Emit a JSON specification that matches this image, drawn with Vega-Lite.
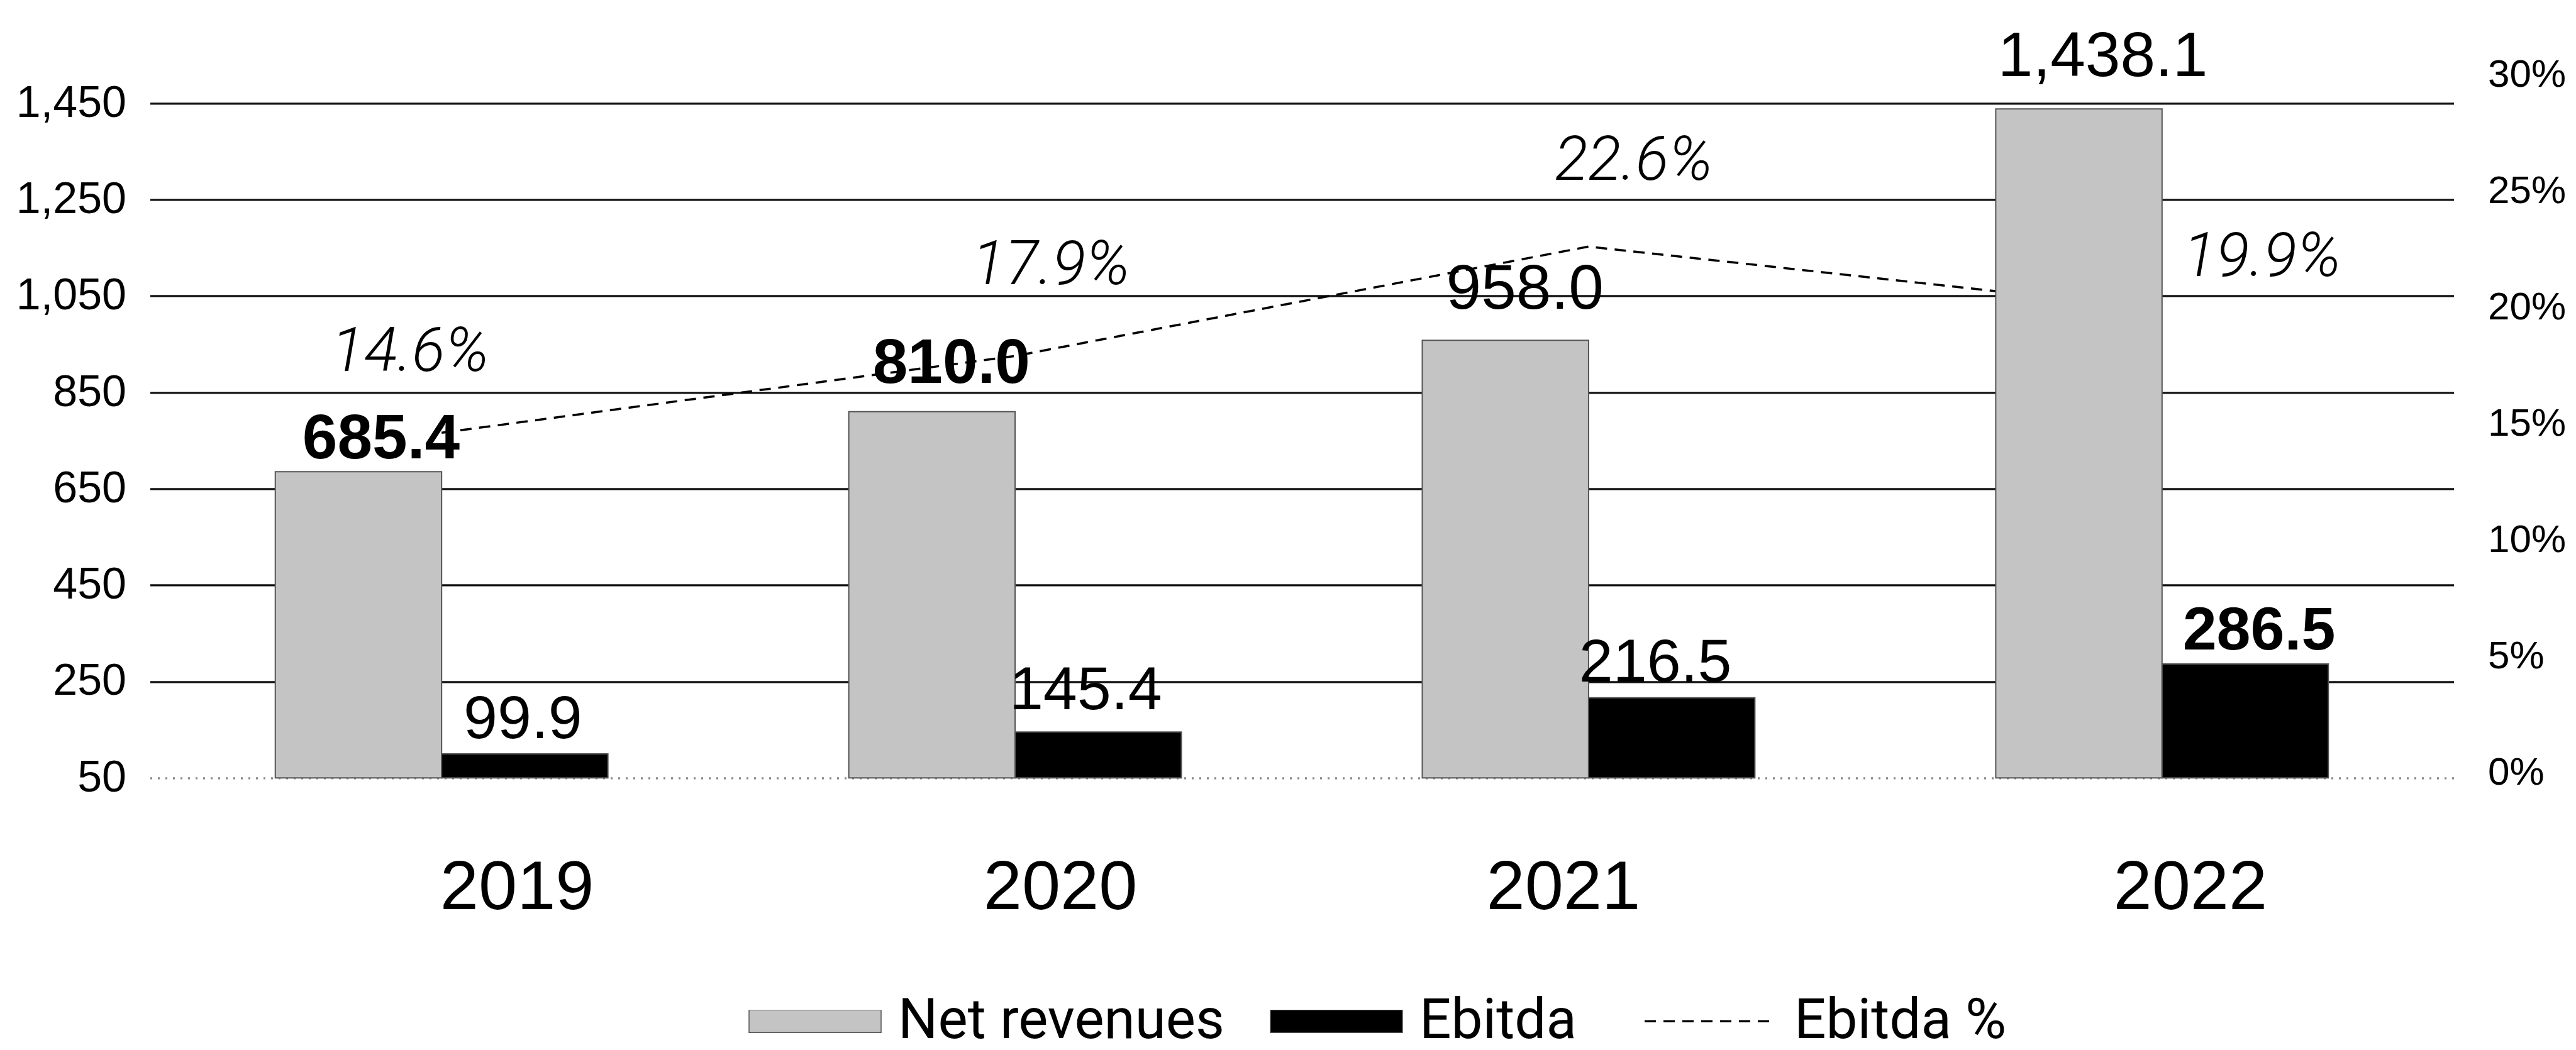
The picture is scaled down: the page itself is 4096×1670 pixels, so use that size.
{
  "$schema": "https://vega.github.io/schema/vega-lite/v6.json",
  "width": 3663,
  "height": 1119,
  "autosize": {"type": "none"},
  "padding": {"left": 238.5, "top": 118.3, "right": 194.5, "bottom": 432.7},
  "background": "white",
  "config": {"view": {"stroke": null}, "font": "Liberation Sans"},
  "data": {
    "values": [
      {"year": "2019", "series": "Net revenues", "value": 685.4},
      {"year": "2019", "series": "Ebitda", "value": 99.9},
      {"year": "2019", "series": "Ebitda %", "value": 0.146},
      {"year": "2020", "series": "Net revenues", "value": 810.0},
      {"year": "2020", "series": "Ebitda", "value": 145.4},
      {"year": "2020", "series": "Ebitda %", "value": 0.179},
      {"year": "2021", "series": "Net revenues", "value": 958.0},
      {"year": "2021", "series": "Ebitda", "value": 216.5},
      {"year": "2021", "series": "Ebitda %", "value": 0.226},
      {"year": "2022", "series": "Net revenues", "value": 1438.1},
      {"year": "2022", "series": "Ebitda", "value": 286.5},
      {"year": "2022", "series": "Ebitda %", "value": 0.199}
    ]
  },
  "layer": [
    {
      "transform": [{"filter": "datum.series === 'Ebitda %'"}],
      "encoding": {
        "x": {
          "field": "year", "type": "nominal",
          "scale": {"paddingInner": 0.42, "paddingOuter": 0.2185},
          "axis": {
            "orient": "bottom", "labelFontSize": 110, "labelPadding": 208, "labelBaseline": "alphabetic",
            "labelAngle": 0, "labelColor": "#000000", "labelLimit": 1000, "domain": false, "ticks": false, "tickSize": 0, "title": null,
            "labelOffset": {"condition": [{"test": "datum.value === '2019'", "value": 120}, {"test": "datum.value === '2020'", "value": 72}, {"test": "datum.value === '2021'", "value": -40}], "value": 45}
          }
        },
        "y": {
          "field": "value", "type": "quantitative",
          "scale": {"domain": [-0.00232, 0.3], "nice": false, "zero": false},
          "axis": {
            "orient": "right", "values": [0, 0.05, 0.1, 0.15, 0.2, 0.25, 0.3], "format": ".0%",
            "labelFontSize": 62, "labelPadding": 54, "labelAlign": "left", "labelColor": "#000000",
            "domain": false, "ticks": false, "grid": false, "title": null
          }
        }
      },
      "layer": [
        {
          "mark": {"type": "line", "stroke": "#000000", "strokeWidth": 3.5},
          "encoding": {
            "strokeDash": {
              "field": "series", "type": "nominal",
              "scale": {"domain": ["Ebitda %"], "range": [[18, 12]]},
              "legend": {
                "title": null, "orient": "none", "legendX": 2374.5, "legendY": 1488, "direction": "horizontal",
                "symbolType": "stroke", "symbolSize": 44100, "clipHeight": 36,
                "symbolStrokeColor": "#000000", "symbolStrokeWidth": 3.5,
                "labelFont": "Roboto", "labelFontSize": 89, "labelOffset": 26, "labelLimit": 1000,
                "labelColor": "#000000", "padding": 0
              }
            }
          }
        },
        {
          "transform": [{"filter": "datum.year === '2019'"}],
          "mark": {"type": "text", "font": "Roboto", "fontStyle": "italic", "fontWeight": 300, "fontSize": 98, "baseline": "alphabetic", "align": "center", "color": "#000000", "dx": -50, "dy": -98},
          "encoding": {"text": {"field": "value", "type": "quantitative", "format": ".1%"}}
        },
        {
          "transform": [{"filter": "datum.year === '2020'"}],
          "mark": {"type": "text", "font": "Roboto", "fontStyle": "italic", "fontWeight": 300, "fontSize": 98, "baseline": "alphabetic", "align": "center", "color": "#000000", "dx": 57, "dy": -114},
          "encoding": {"text": {"field": "value", "type": "quantitative", "format": ".1%"}}
        },
        {
          "transform": [{"filter": "datum.year === '2021'"}],
          "mark": {"type": "text", "font": "Roboto", "fontStyle": "italic", "fontWeight": 300, "fontSize": 98, "baseline": "alphabetic", "align": "center", "color": "#000000", "dx": 72, "dy": -106},
          "encoding": {"text": {"field": "value", "type": "quantitative", "format": ".1%"}}
        },
        {
          "transform": [{"filter": "datum.year === '2022'"}],
          "mark": {"type": "text", "font": "Roboto", "fontStyle": "italic", "fontWeight": 300, "fontSize": 98, "baseline": "alphabetic", "align": "center", "color": "#000000", "dx": 159, "dy": -53},
          "encoding": {"text": {"field": "value", "type": "quantitative", "format": ".1%"}}
        }
      ]
    },
    {
      "transform": [{"filter": "datum.series !== 'Ebitda %'"}],
      "encoding": {
        "x": {
          "field": "year", "type": "nominal",
          "scale": {"paddingInner": 0.42, "paddingOuter": 0.2185},
          "axis": {
            "orient": "bottom", "labelFontSize": 110, "labelPadding": 208, "labelBaseline": "alphabetic",
            "labelAngle": 0, "labelColor": "#000000", "labelLimit": 1000, "domain": false, "ticks": false, "tickSize": 0, "title": null,
            "labelOffset": {"condition": [{"test": "datum.value === '2019'", "value": 120}, {"test": "datum.value === '2020'", "value": 72}, {"test": "datum.value === '2021'", "value": -40}], "value": 45}
          }
        },
        "xOffset": {
          "field": "series", "type": "nominal",
          "scale": {"domain": ["Net revenues", "Ebitda"], "paddingInner": 0, "paddingOuter": 0}
        },
        "y": {
          "field": "value", "type": "quantitative",
          "scale": {"domain": [50, 1509.7], "nice": false, "zero": false},
          "axis": {
            "orient": "left", "values": [50, 250, 450, 650, 850, 1050, 1250, 1450], "format": ",d",
            "labelFontSize": 70, "labelPadding": 38, "labelColor": "#000000",
            "domain": false, "ticks": false, "title": null,
            "grid": true, "gridColor": "#111111", "gridWidth": 3.3,
            "gridDash": {"condition": {"test": "datum.value === 50", "value": [3, 9]}, "value": []},
            "gridOpacity": {"condition": {"test": "datum.value === 50", "value": 0.5}, "value": 1}
          }
        }
      },
      "layer": [
        {
          "mark": {"type": "bar", "stroke": "#555555", "strokeWidth": 2},
          "encoding": {
            "y2": {"datum": 50},
            "fill": {
              "field": "series", "type": "nominal",
              "scale": {"domain": ["Net revenues", "Ebitda"], "range": ["#c4c4c4", "#000000"]},
              "legend": {
                "title": null, "orient": "none", "legendX": 951.5, "legendY": 1488, "direction": "horizontal",
                "symbolType": "M-1,-0.171H1V0.171H-1Z", "symbolSize": 44100, "clipHeight": 36,
                "symbolStrokeColor": "#555555", "symbolStrokeWidth": 1.5,
                "labelFont": "Roboto", "labelFontSize": 89, "labelOffset": 26, "labelLimit": 1000,
                "labelColor": "#000000", "columnPadding": 72, "padding": 0
              }
            }
          }
        },
        {
          "transform": [{"filter": "datum.series === 'Net revenues' && datum.year === '2019'"}],
          "mark": {"type": "text", "fontSize": 100, "fontWeight": "bold", "baseline": "alphabetic", "align": "center", "color": "#000000", "dx": 36, "dy": -21},
          "encoding": {"text": {"field": "value", "type": "quantitative", "format": ",.1f"}}
        },
        {
          "transform": [{"filter": "datum.series === 'Net revenues' && datum.year === '2020'"}],
          "mark": {"type": "text", "fontSize": 100, "fontWeight": "bold", "baseline": "alphabetic", "align": "center", "color": "#000000", "dx": 31, "dy": -46},
          "encoding": {"text": {"field": "value", "type": "quantitative", "format": ",.1f"}}
        },
        {
          "transform": [{"filter": "datum.series === 'Net revenues' && datum.year === '2021'"}],
          "mark": {"type": "text", "fontSize": 100, "baseline": "alphabetic", "align": "center", "color": "#000000", "dx": 31, "dy": -50},
          "encoding": {"text": {"field": "value", "type": "quantitative", "format": ",.1f"}}
        },
        {
          "transform": [{"filter": "datum.series === 'Net revenues' && datum.year === '2022'"}],
          "mark": {"type": "text", "fontSize": 100, "baseline": "alphabetic", "align": "center", "color": "#000000", "dx": 38, "dy": -52},
          "encoding": {"text": {"field": "value", "type": "quantitative", "format": ",.1f"}}
        },
        {
          "transform": [{"filter": "datum.series === 'Ebitda' && datum.year === '2019'"}],
          "mark": {"type": "text", "fontSize": 97, "baseline": "alphabetic", "align": "center", "color": "#000000", "dx": -3, "dy": -25},
          "encoding": {"text": {"field": "value", "type": "quantitative", "format": ",.1f"}}
        },
        {
          "transform": [{"filter": "datum.series === 'Ebitda' && datum.year === '2020'"}],
          "mark": {"type": "text", "fontSize": 97, "baseline": "alphabetic", "align": "center", "color": "#000000", "dx": -20, "dy": -36},
          "encoding": {"text": {"field": "value", "type": "quantitative", "format": ",.1f"}}
        },
        {
          "transform": [{"filter": "datum.series === 'Ebitda' && datum.year === '2021'"}],
          "mark": {"type": "text", "fontSize": 97, "baseline": "alphabetic", "align": "center", "color": "#000000", "dx": -26, "dy": -26},
          "encoding": {"text": {"field": "value", "type": "quantitative", "format": ",.1f"}}
        },
        {
          "transform": [{"filter": "datum.series === 'Ebitda' && datum.year === '2022'"}],
          "mark": {"type": "text", "fontSize": 97, "fontWeight": "bold", "baseline": "alphabetic", "align": "center", "color": "#000000", "dx": 22, "dy": -23},
          "encoding": {"text": {"field": "value", "type": "quantitative", "format": ",.1f"}}
        }
      ]
    }
  ],
  "resolve": {"scale": {"y": "independent"}, "axis": {"y": "independent"}}
}
